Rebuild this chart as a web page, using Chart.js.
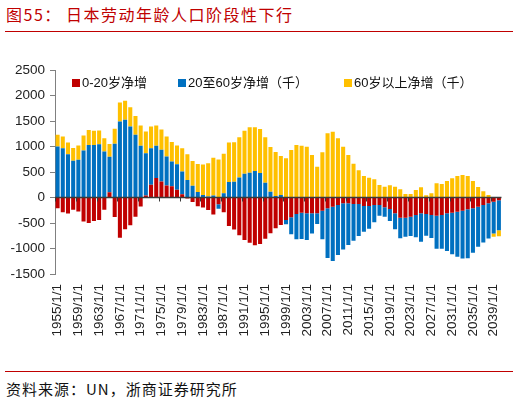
<!DOCTYPE html>
<html>
<head>
<meta charset="utf-8">
<script src="https://cdn.jsdelivr.net/npm/chart.js@4"></script>
<style>
  body { margin: 0; background: #fff; }
  #wrap { position: relative; width: 520px; height: 402px; overflow: hidden; font-family: "Noto Sans CJK SC", sans-serif; }
  .title { position: absolute; top: 4px; font-size: 16px; color: #c00000; letter-spacing: 1.5px; line-height: 20px; white-space: nowrap; }
  .rule { position: absolute; left: 5px; width: 508px; height: 1px; background: #c00000; }
  #source { position: absolute; left: 6px; top: 379px; font-size: 15px; line-height: 20px; letter-spacing: 1px; color: #111; white-space: nowrap; }
  #box { position: absolute; left: 0; top: 40px; width: 520px; height: 305px; }
</style>
</head>
<body>
<div id="wrap">
  <div class="title" style="left:6px">图55：</div>
  <div class="title" style="left:66px">日本劳动年龄人口阶段性下行</div>
  <div class="rule" style="top:31px"></div>
  <div id="box"><canvas id="chart"></canvas></div>
  <div class="rule" style="top:371px"></div>
  <div id="source">资料来源：UN，浙商证券研究所</div>
</div>
<script>
// years 1955 .. 2040, values in thousands
const years = [];
for (let y = 1955; y <= 2040; y++) years.push(y);
const labels = years.map((y) => y + "/1/1");

const young = [
  -210, -290, -314, -240, -275, -470, -500, -460, -440, -240,
  105, -380, -788, -624, -545, -376, -177, 40, 248, 380,
  314, 235, 222, 150, 65, -20, -88, -172, -198, -244,
  -335, -134, -291, -559, -625, -742, -834, -887, -938, -913,
  -811, -703, -605, -540, -441, -389, -324, -298, -311, -311,
  -311, -258, -213, -180, -147, -114, -114, -128, -128, -167,
  -167, -147, -147, -193, -225, -311, -396, -396, -376, -343,
  -311, -324, -343, -356, -343, -311, -298, -278, -258, -232,
  -213, -180, -147, -114, -85, -52
];

const working = [
  1000, 968, 850, 720, 740, 920, 1030, 1030, 1045, 900,
  695, 1053, 1491, 1524, 1393, 1230, 1014, 830, 718, 634,
  621, 569, 484, 504, 445, 345, 230, 106, 50, 18,
  40, -85, 84, 302, 308, 394, 468, 487, 520, 481,
  291, 114, 29, 49, -85, -334, -497, -517, -520, -395,
  -209, -562, -975, -1063, -980, -905, -816, -722, -628, -505,
  -446, -340, -209, -186, -236, -310, -405, -372, -379, -438,
  -555, -425, -451, -647, -660, -738, -817, -886, -938, -958,
  -872, -788, -736, -691, -621, -588
];

const elderly = [
  230, 230, 230, 250, 280, 295, 295, 280, 270, 260,
  250, 294, 373, 373, 379, 366, 399, 425, 425, 399,
  400, 393, 380, 366, 458, 502, 488, 549, 599, 654,
  740, 747, 776, 778, 776, 786, 843, 889, 856, 862,
  889, 877, 864, 765, 768, 932, 1030, 1017, 997, 834,
  605, 886, 1259, 1291, 1161, 997, 834, 664, 533, 422,
  389, 356, 245, 213, 239, 213, 160, 69, 69, 147,
  199, 42, 82, 278, 265, 324, 376, 422, 441, 422,
  324, 206, 121, 49, -65, -118
];

const seriesNames = ["0-20岁净增", "20至60岁净增（千）", "60岁以上净增（千）"];
const seriesColors = ["#c00000", "#0070c0", "#ffc000"];
const legendX = [72, 178, 344];

// zero line, small ticks on it, and the legend drawn inside the plot
const overlay = {
  id: "overlay",
  afterDatasetsDraw(chart) {
    const ctx = chart.ctx;
    const x = chart.scales.x;
    const y0 = chart.scales.y.getPixelForValue(0);
    const area = chart.chartArea;
    ctx.save();
    ctx.strokeStyle = "#3a3a3a";
    ctx.lineWidth = 1.5;
    ctx.beginPath();
    ctx.moveTo(area.left, y0);
    ctx.lineTo(area.right, y0);
    ctx.stroke();
    ctx.lineWidth = 1;
    const half = (x.getPixelForValue(1) - x.getPixelForValue(0)) / 2;
    for (let i = 0; i < labels.length; i += 4) {
      const px = Math.round(x.getPixelForValue(i) - half) + 0.5;
      ctx.beginPath();
      ctx.moveTo(px, y0);
      ctx.lineTo(px, y0 + 4);
      ctx.stroke();
    }
    ctx.font = '13px "Liberation Sans", "Noto Sans CJK SC"';
    ctx.textBaseline = "middle";
    seriesNames.forEach((name, i) => {
      ctx.fillStyle = seriesColors[i];
      ctx.fillRect(legendX[i], 39, 8, 8);
      ctx.fillStyle = "#111";
      ctx.fillText(name, legendX[i] + 10, 43.5);
    });
    ctx.restore();
  }
};

new Chart(document.getElementById("chart"), {
  type: "bar",
  data: {
    labels: labels,
    datasets: [
      { label: seriesNames[0], data: young, backgroundColor: seriesColors[0] },
      { label: seriesNames[1], data: working, backgroundColor: seriesColors[1] },
      { label: seriesNames[2], data: elderly, backgroundColor: seriesColors[2] }
    ]
  },
  options: {
    responsive: true,
    maintainAspectRatio: false,
    animation: false,
    layout: { padding: { top: 30, right: 6, left: 0, bottom: 0 } },
    datasets: { bar: { barPercentage: 0.78, categoryPercentage: 1 } },
    plugins: { legend: { display: false }, tooltip: { enabled: false } },
    scales: {
      x: {
        stacked: true,
        grid: { display: false, drawTicks: false },
        border: { display: false },
        ticks: {
          autoSkip: false,
          minRotation: 90,
          maxRotation: 90,
          padding: 10,
          color: "#222",
          font: { family: "Liberation Sans", size: 13.5 },
          callback: (v, i) => (i % 4 === 0 ? labels[i] : null)
        },
        afterFit: (scale) => { scale.height = 71; }
      },
      y: {
        stacked: true,
        min: -1500,
        max: 2500,
        grid: { drawOnChartArea: false, tickLength: 5, tickColor: "#808080" },
        border: { color: "#808080" },
        ticks: {
          stepSize: 500,
          padding: 5,
          color: "#222",
          font: { family: "Liberation Sans", size: 13.5 },
          callback: (v) => String(v)
        },
        afterFit: (scale) => { scale.width = 55; }
      }
    }
  },
  plugins: [overlay]
});
</script>
</body>
</html>
